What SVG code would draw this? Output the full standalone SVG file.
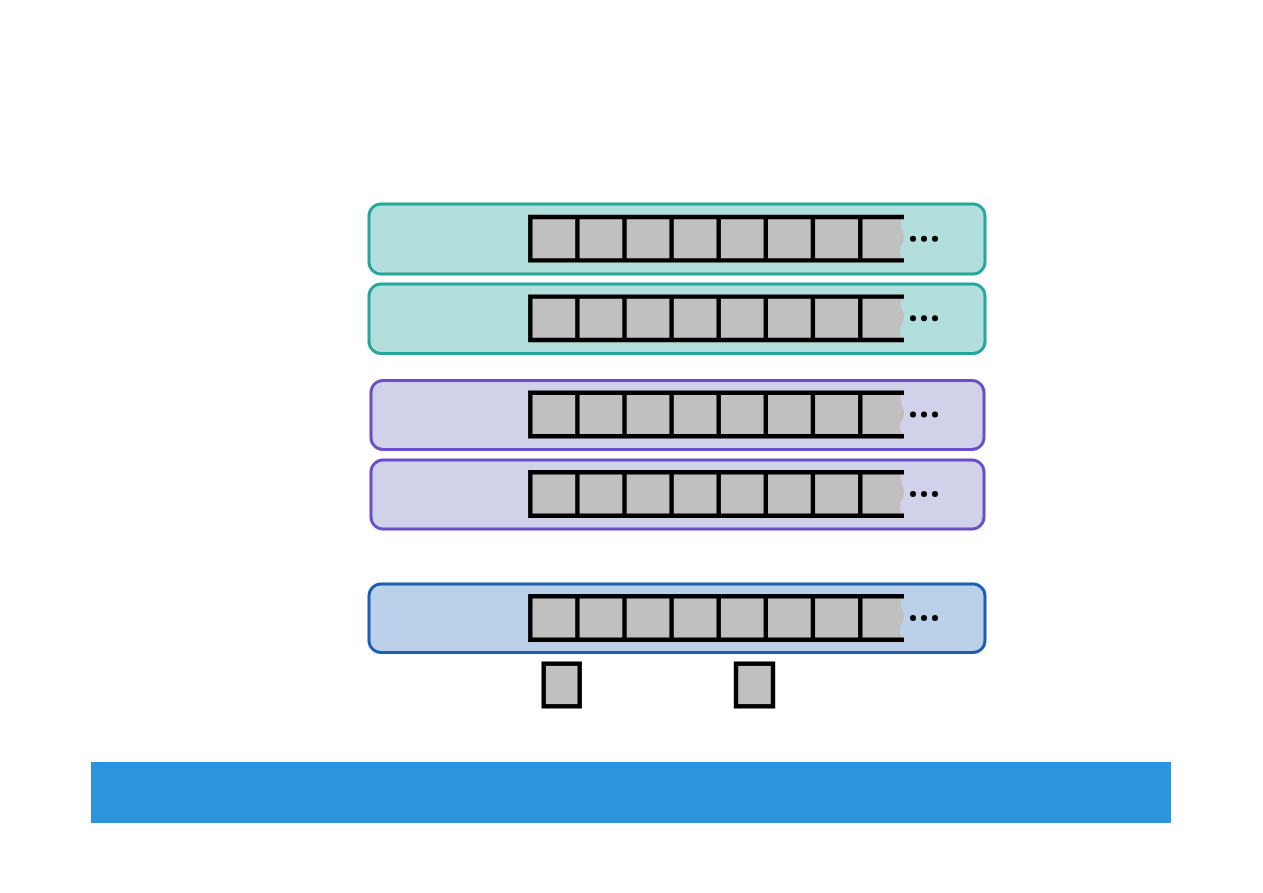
<svg xmlns="http://www.w3.org/2000/svg" xmlns:xlink="http://www.w3.org/1999/xlink" width="1263" height="893" viewBox="0 0 1263 893">
<style>
.teal{fill:#b2dfdb;stroke:#26a69a;stroke-width:3}
.purple{fill:#d1d1e9;stroke:#6a4fc7;stroke-width:3}
.blue{fill:#bbd1e9;stroke:#1b5fb2;stroke-width:3}
.cell{fill:#c0c0c0;stroke:#000;stroke-width:4.4}
.ln{stroke:#000;stroke-width:4.4;fill:none}
.dot{fill:#000}
</style>
<defs>
<g id="strip">
<rect x="530.3" y="-21.7" width="376" height="43.4" fill="#c0c0c0" stroke="none"/>
<path d="M902,-21.7 Q899,-14 903,-7 Q906,0 901,7 Q898,14 903,21.7 L910,21.7 L910,-21.7 Z" fill="currentColor"/>
<path class="ln" d="M904,-21.7 H530.3 V21.7 H904"/>
<path class="ln" d="M577.4,-21.7V21.7 M624.5,-21.7V21.7 M671.6,-21.7V21.7 M718.7,-21.7V21.7 M765.8,-21.7V21.7 M812.9,-21.7V21.7 M860.3,-21.7V21.7"/>
<circle class="dot" cx="913" cy="0" r="3"/>
<circle class="dot" cx="924" cy="0" r="3"/>
<circle class="dot" cx="935" cy="0" r="3"/>
</g>
</defs>
<rect width="1263" height="893" fill="#fff"/>
<g id="node-teal-1" style="color:#b2dfdb">
<rect class="teal" x="369" y="204" width="616" height="70" rx="12"/>
<use xlink:href="#strip" transform="translate(0,238.7)"/>
</g>
<g id="node-teal-2" style="color:#b2dfdb">
<rect class="teal" x="369" y="284" width="616" height="69.5" rx="12"/>
<use xlink:href="#strip" transform="translate(0,318.3)"/>
</g>
<g id="node-purple-1" style="color:#d1d1e9">
<rect class="purple" x="371" y="380.5" width="613" height="69" rx="12"/>
<use xlink:href="#strip" transform="translate(0,414.5)"/>
</g>
<g id="node-purple-2" style="color:#d1d1e9">
<rect class="purple" x="371" y="460" width="613" height="69" rx="12"/>
<use xlink:href="#strip" transform="translate(0,494)"/>
</g>
<g id="node-blue" style="color:#bbd1e9">
<rect class="blue" x="369" y="584" width="616" height="68.5" rx="12"/>
<use xlink:href="#strip" transform="translate(0,618)"/>
</g>
<g id="node-small-1">
<rect class="cell" x="543.7" y="663.7" width="36" height="42.6"/>
</g>
<g id="node-small-2">
<rect class="cell" x="736" y="663.7" width="37" height="42.6"/>
</g>
<g id="connectors"></g>
<g id="node-bar">
<rect x="91" y="762" width="1080" height="61" fill="#2d95de"/>
</g>
</svg>
